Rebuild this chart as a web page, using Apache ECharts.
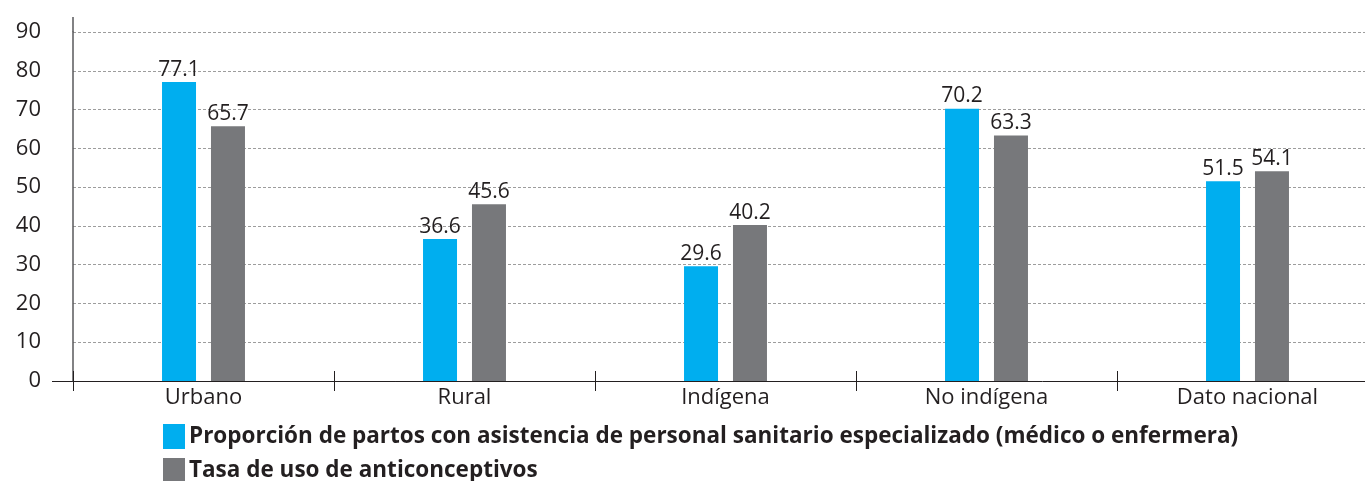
<!DOCTYPE html>
<html>
<head>
<meta charset="utf-8">
<script src="https://cdn.jsdelivr.net/npm/echarts@6/dist/echarts.min.js"></script>
<style>
  html, body { margin: 0; padding: 0; background: #fff; }
  #container { width: 1365px; height: 481px; }
</style>
</head>
<body>
<div id="container"></div>
<script>
// datos
var categorias = ['Urbano', 'Rural', 'Indígena', 'No indígena', 'Dato nacional'];
var partos = [77.1, 36.6, 29.6, 70.2, 51.5];
var anticonceptivos = [65.7, 45.6, 40.2, 63.3, 54.1];
var nombrePartos = 'Proporción de partos con asistencia de personal sanitario especializado (médico o enfermera)';
var nombreAnti = 'Tasa de uso de anticonceptivos';

var dom = document.getElementById('container');
var myChart = echarts.init(dom, null, { renderer: 'canvas' });

var texto = '#231F20';
var fuente = 'Open Sans';

var leyenda = function (nombre, arriba) {
  return {
    orient: 'vertical',
    left: 163,
    top: arriba,
    itemWidth: 22,
    itemHeight: 25,
    icon: 'rect',
    padding: 0,
    data: [nombre],
    textStyle: { color: texto, fontFamily: fuente, fontWeight: 'bold', fontSize: 22.5, padding: [0, 0, 0, -1] }
  };
};

var option = {
  animation: false,
  grid: { left: 73, width: 1305, top: 32, bottom: 100, outerBoundsMode: 'none' },
  legend: [leyenda(nombrePartos, 424), leyenda(nombreAnti, 458)],
  xAxis: [
    {
      type: 'category',
      data: categorias,
      axisLine: { lineStyle: { color: texto, width: 1 } },
      axisTick: { show: true, length: 10, lineStyle: { color: texto } },
      axisLabel: { color: texto, fontFamily: fuente, fontSize: 22, margin: 6 }
    },
    {
      type: 'category',
      data: categorias,
      position: 'bottom',
      axisLine: { show: false },
      axisTick: { show: true, inside: true, length: 10, lineStyle: { color: texto } },
      axisLabel: { show: false }
    }
  ],
  yAxis: {
    type: 'value',
    min: 0,
    max: 90,
    interval: 10,
    axisLine: { show: true, lineStyle: { color: '#58595B', width: 1.5 } },
    axisTick: { show: false },
    axisLabel: { color: texto, fontFamily: fuente, fontSize: 22, margin: 32 },
    splitLine: { lineStyle: { color: '#9d9d9d', type: [3, 2], width: 1 } }
  },
  graphic: [
    { type: 'line', shape: { x1: 73, y1: 17, x2: 73, y2: 32 }, style: { stroke: '#58595B', lineWidth: 1.5 } },
    { type: 'line', shape: { x1: 52, y1: 381.5, x2: 73, y2: 381.5 }, style: { stroke: texto, lineWidth: 1 } }
  ],
  series: [
    {
      name: nombrePartos,
      type: 'bar',
      data: partos,
      barWidth: 34,
      barGap: '44%',
      itemStyle: { color: '#00AEEF' },
      label: { show: true, position: 'top', distance: 2, color: texto, fontFamily: fuente, fontSize: 21 }
    },
    {
      name: nombreAnti,
      type: 'bar',
      data: anticonceptivos,
      barWidth: 34,
      barGap: '44%',
      itemStyle: { color: '#77787B' },
      label: { show: true, position: 'top', distance: 2, color: texto, fontFamily: fuente, fontSize: 21 }
    }
  ]
};

myChart.setOption(option);
window.addEventListener('resize', myChart.resize);
</script>
</body>
</html>
